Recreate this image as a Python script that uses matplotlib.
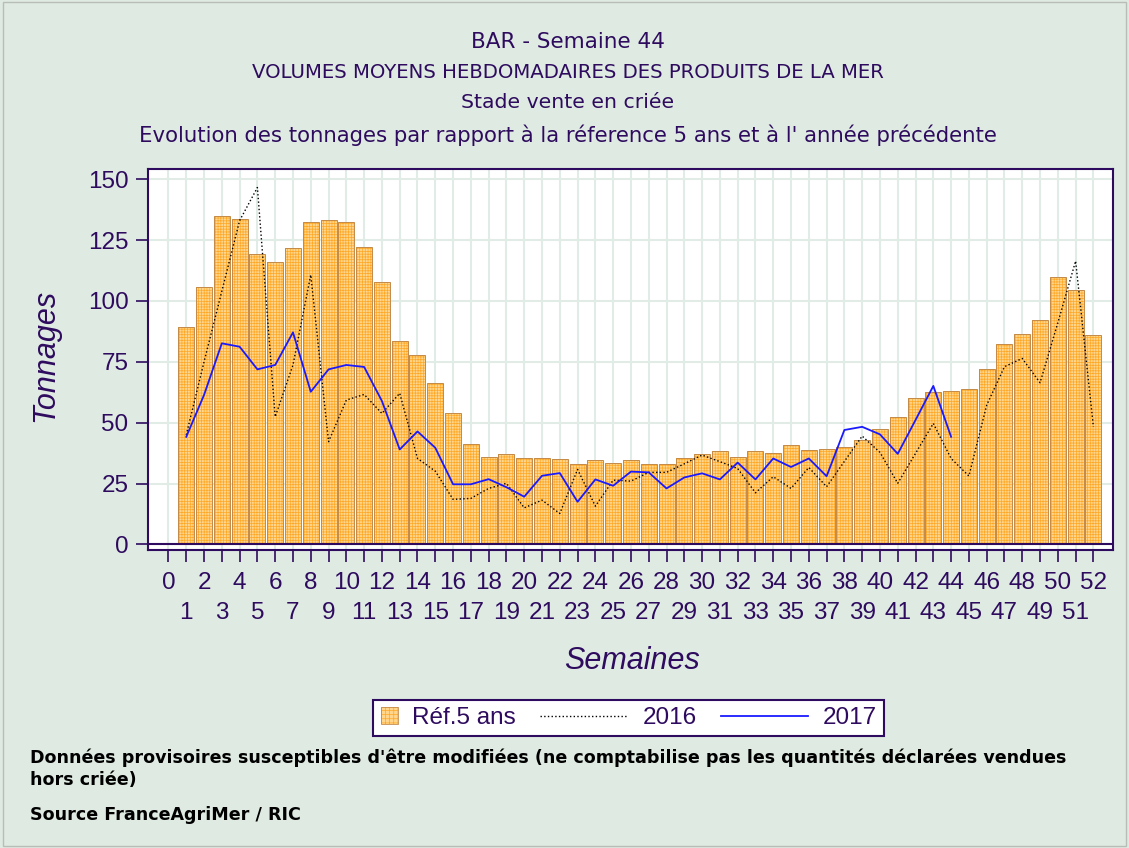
import matplotlib
matplotlib.use("Agg")
import matplotlib.pyplot as plt
import matplotlib.patches as mpatches
from matplotlib.lines import Line2D
from matplotlib.legend_handler import HandlerBase

# data
weeks = list(range(1, 53))
ref5 = [89.2, 105.6, 134.8, 133.7, 119.2, 115.9, 121.6, 132.5, 133.2, 132.3,
        122.1, 107.7, 83.6, 77.8, 66.2, 53.8, 41.2, 35.8, 37.3, 35.3,
        35.3, 34.9, 32.9, 34.5, 33.3, 34.5, 32.9, 33.1, 35.3, 37.0,
        38.3, 35.8, 38.3, 37.4, 40.7, 38.6, 39.0, 39.9, 42.7, 47.3,
        52.2, 60.0, 62.7, 62.9, 63.7, 72.0, 82.2, 86.3, 92.1, 109.7,
        104.4, 85.9]
y2016 = [45.0, 75.0, 104.0, 133.0, 146.6, 52.4, 73.7, 110.7, 42.2, 59.3,
         61.6, 53.8, 62.1, 35.3, 30.1, 18.5, 18.9, 23.0, 25.1, 15.0,
         18.2, 12.7, 30.8, 15.7, 26.4, 26.0, 29.6, 29.6, 33.1, 36.7,
         34.0, 31.2, 21.2, 27.8, 23.0, 31.6, 23.7, 34.1, 44.5, 37.8,
         25.1, 37.4, 49.7, 35.3, 28.1, 57.2, 73.0, 76.4, 66.4, 91.0,
         116.4, 48.3]
weeks_2017 = list(range(1, 45))
y2017 = [44.2, 61.4, 82.6, 81.2, 71.9, 73.7, 87.1, 62.7, 71.9, 73.7,
         72.9, 58.9, 39.0, 46.4, 39.7, 24.7, 24.7, 26.8, 23.5, 19.6,
         28.2, 29.3, 17.5, 26.7, 24.1, 29.9, 29.6, 23.0, 27.5, 29.2,
         26.7, 33.6, 26.7, 35.3, 31.8, 35.3, 28.0, 47.0, 48.3, 45.2,
         37.2, 51.1, 65.1, 44.2]
even_ticks = list(range(0, 53, 2))
odd_ticks = list(range(1, 53, 2))
yticks = [0, 25, 50, 75, 100, 125, 150]

bg = '#dfebe2'
purple = '#2e0b5e'
grid_col = '#e2ece6'
bar_fill = '#ffd68c'
hatch_col = '#ffa726'
bar_edge = '#c48a48'
font = 'Liberation Sans'
wide = 'DejaVu Sans'

plt.rcParams['font.family'] = font
plt.rcParams['hatch.linewidth'] = 0.5

fig = plt.figure(figsize=(11.29, 8.48), dpi=100, facecolor=bg)
ax = fig.add_axes([0.1311, 0.3514, 0.9858 - 0.1311, 0.8007 - 0.3514])
ax.set_facecolor('white')

# bars: hatched fill, then outline on top
ax.bar(weeks, ref5, width=0.9, color=bar_fill, edgecolor=hatch_col,
       hatch='++++++', linewidth=0, zorder=2)
ax.bar(weeks, ref5, width=0.9, fill=False, edgecolor=bar_edge,
       linewidth=0.7, zorder=3)

ax.plot(weeks, y2016, color='black', linestyle=':', linewidth=1.0, zorder=4)
ax.plot(weeks_2017, y2017, color='#1a1aff', linewidth=1.3, zorder=5)
ax.axhline(0, color=purple, linewidth=1.5, zorder=3)

ax.set_xlim(-1.15, 53.1)
ax.set_ylim(-2.3, 154.2)
# even weeks on the first row, odd weeks on the second row
ax.set_xticks(even_ticks)
ax.set_xticklabels([str(n) for n in even_ticks])
ax.set_xticks(odd_ticks, minor=True)
ax.set_xticklabels([str(n) for n in odd_ticks], minor=True)
ax.set_yticks(yticks)
ax.grid(True, which='both', axis='x', color=grid_col, linewidth=1.5, zorder=0)
ax.grid(True, axis='y', color=grid_col, linewidth=1.5, zorder=0)
ax.set_axisbelow(True)

for s in ax.spines.values():
    s.set_color(purple)
    s.set_linewidth(1.5)
ax.tick_params(axis='both', which='both', colors=purple, labelsize=17.5,
               length=8.5, width=1.2)
ax.tick_params(axis='y', pad=5.5)
ax.tick_params(axis='x', which='major', pad=7)
ax.tick_params(axis='x', which='minor', pad=29)

fig.text(0.04, 0.581, 'Tonnages', rotation=90, style='italic', fontsize=22,
         color=purple, ha='center', va='center')
fig.text(0.5597, 1 - 661 / 848, 'Semaines', style='italic', fontsize=22,
         color=purple, ha='center', va='center')

# titles
fig.text(0.503, 1 - 42 / 848, 'BAR - Semaine 44', fontsize=15.5, color=purple,
         ha='center', va='center', family=wide)
fig.text(0.503, 1 - 72 / 848, 'VOLUMES MOYENS HEBDOMADAIRES DES PRODUITS DE LA MER',
         fontsize=14.2, color=purple, ha='center', va='center', family=wide)
fig.text(0.503, 1 - 103 / 848, 'Stade vente en criée', fontsize=14.7,
         color=purple, ha='center', va='center', family=wide)
fig.text(0.503, 1 - 135 / 848,
         "Evolution des tonnages par rapport à la réference 5 ans et à l' année précédente",
         fontsize=15.3, color=purple, ha='center', va='center', family=wide)

# legend with a small square key and long line keys
class SquareKey(HandlerBase):
    def create_artists(self, legend, orig_handle, xdescent, ydescent,
                       width, height, fontsize, trans):
        s = 12
        x0 = width - s - xdescent
        y0 = height / 2 - s / 2 - ydescent
        r = mpatches.Rectangle((x0, y0), s, s, facecolor=bar_fill,
                               edgecolor=hatch_col, hatch='++++', linewidth=0,
                               transform=trans)
        r2 = mpatches.Rectangle((x0, y0), s, s, fill=False, edgecolor=bar_edge,
                                linewidth=0.6, transform=trans)
        return [r, r2]


class LongLineKey(HandlerBase):
    def create_artists(self, legend, orig_handle, xdescent, ydescent,
                       width, height, fontsize, trans):
        y = height / 2 - ydescent
        ln = Line2D([width - 63 - xdescent, width - xdescent], [y, y],
                    color=orig_handle.get_color(),
                    linestyle=orig_handle.get_linestyle(),
                    linewidth=orig_handle.get_linewidth(), transform=trans)
        return [ln]


h_bar = mpatches.Patch(facecolor=bar_fill)
h16 = Line2D([], [], color='black', linestyle=':', linewidth=1.0)
h17 = Line2D([], [], color='#1a1aff', linewidth=1.3)
leg = fig.legend([h_bar, h16, h17], ['Réf.5 ans', '2016', '2017'],
                 handler_map={mpatches.Patch: SquareKey(), Line2D: LongLineKey()},
                 loc='center', bbox_to_anchor=(0.557, 1 - 718 / 848), ncol=3,
                 fontsize=17.5, handlelength=0.7, handletextpad=0.6,
                 columnspacing=3.9, borderpad=0.3, fancybox=False,
                 framealpha=1, edgecolor=purple, facecolor='white')
leg.get_frame().set_linewidth(1.5)
for t in leg.get_texts():
    t.set_color(purple)

# footnotes
note_kw = dict(fontsize=12.6, color='black', ha='left', va='center',
               fontweight='bold', family=wide)
fig.text(30 / 1129, 1 - 758 / 848,
         "Données provisoires susceptibles d'être modifiées (ne comptabilise pas les quantités déclarées vendues",
         **note_kw)
fig.text(30 / 1129, 1 - 780 / 848, 'hors criée)', **note_kw)
fig.text(30 / 1129, 1 - 815 / 848, 'Source FranceAgriMer / RIC', **note_kw)

fig.patches.append(mpatches.Rectangle((0.003, 0.002), 0.994, 0.996, fill=False,
                                      edgecolor='#b8bdb9', linewidth=1,
                                      transform=fig.transFigure, figure=fig))

fig.savefig('out.png', dpi=100, facecolor=bg)
